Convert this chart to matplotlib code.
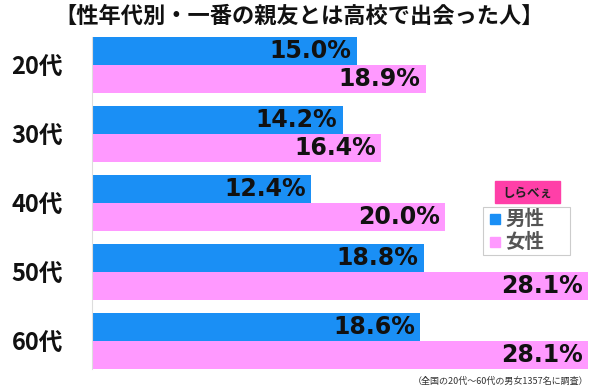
import numpy as np
import matplotlib.pyplot as plt
from matplotlib.patches import Rectangle

plt.rcParams['font.family'] = ['Noto Sans CJK JP', 'DejaVu Sans']

ages = ['20代', '30代', '40代', '50代', '60代']
male = [15.0, 14.2, 12.4, 18.8, 18.6]
female = [18.9, 16.4, 20.0, 28.1, 28.1]

blue = '#1a8ff5'
pink = '#ff99ff'

fig = plt.figure(figsize=(6, 3.89), dpi=100)
ax = fig.add_axes([92 / 600, 1 - 369 / 389, 496 / 600, 332 / 389])

h = 0.405
y = np.arange(len(ages))
ax.barh(y - h / 2, male, height=h, color=blue)
ax.barh(y + h / 2, female, height=h, color=pink)

for yi, m, f in zip(y, male, female):
    ax.text(m - 0.3, yi - h / 2, f'{m:.1f}%', ha='right', va='center',
            fontsize=17, fontweight='bold', family='DejaVu Sans', color='#111')
    ax.text(f - 0.3, yi + h / 2, f'{f:.1f}%', ha='right', va='center',
            fontsize=17, fontweight='bold', family='DejaVu Sans', color='#111')

ax.set_xlim(0, 28.1)
ax.set_ylim(len(ages) - 1 + h, -h)
ax.set_yticks(y)
ax.set_yticklabels(ages, fontsize=17, fontweight='bold', color='#111')
ax.tick_params(axis='y', length=0, pad=21)
ax.set_xticks([])
for s in ['top', 'right', 'bottom']:
    ax.spines[s].set_visible(False)
ax.spines['left'].set_color('#dddddd')

fig.text(0.498, 1 - 16 / 389, '【性年代別・一番の親友とは高校で出会った人】',
         ha='center', va='center', fontsize=16, fontweight='bold', color='#111')

fig.text(588 / 600, 1 - 381 / 389, '（全国の20代～60代の男女1357名に調査）',
         ha='right', va='center', fontsize=6.5, color='#333')

# logo
fig.patches.append(Rectangle((495 / 600, 1 - 203 / 389), 65 / 600, 22 / 389,
                             transform=fig.transFigure, color='#ff3fa8'))
fig.text(527 / 600, 1 - 193 / 389, 'しらべぇ', ha='center', va='center',
         fontsize=9, fontweight='bold', color='#222')

# legend box
fig.patches.append(Rectangle((483 / 600, 1 - 255 / 389), 87 / 600, 48 / 389,
                             transform=fig.transFigure, facecolor='white',
                             edgecolor='#cccccc', lw=0.8))
for i, (lab, c) in enumerate([('男性', blue), ('女性', pink)]):
    yy = 1 - (219 + i * 23) / 389
    fig.patches.append(Rectangle((490 / 600, yy - 5 / 389), 10 / 600, 10 / 389,
                                 transform=fig.transFigure, color=c))
    fig.text(505 / 600, yy, lab, ha='left', va='center', fontsize=14,
             fontweight='bold', color='#555')

fig.savefig('out.png', dpi=100)
